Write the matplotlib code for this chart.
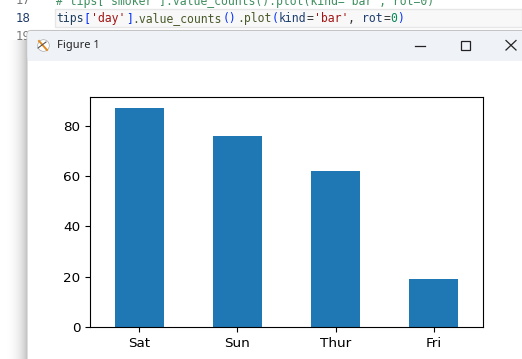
import numpy as np
import matplotlib
matplotlib.use('Agg')
import matplotlib.pyplot as plt
from matplotlib.patches import Rectangle, FancyBboxPatch

days = ['Sat', 'Sun', 'Thur', 'Fri']
counts = [87, 76, 62, 19]
yticks = [0, 20, 40, 60, 80]

# editor lines: (text, colour) pieces
code_17 = [("# tips['smoker'].value_counts().plot(kind='bar', rot=0)", '#3f8f5f')]
code_18 = [("tips", '#1f3f5f'), ("[", '#0431fa'), ("'day'", '#a31515'), ("]", '#0431fa'),
           (".value_counts", '#4a5a2a'), ("()", '#0431fa'), (".plot", '#4a5a2a'), ("(", '#0431fa'),
           ("kind", '#1f3f6f'), ("=", '#333333'), ("'bar'", '#a31515'), (", ", '#333333'),
           ("rot", '#1f3f6f'), ("=", '#333333'), ("0", '#098658'), (")", '#0431fa')]

W, H = 522, 359
fig = plt.figure(figsize=(W/100, H/100), dpi=100)

# screenshot background in pixel coordinates
bg = fig.add_axes([0, 0, 1, 1], zorder=0)
bg.axis('off')

shadow = 1 - 0.22*np.linspace(0, 1, 27)[None, :]**3
bg.imshow(shadow, extent=(0, 27, H, 40), cmap='gray', vmin=0, vmax=1, aspect='auto')
bg.set_xlim(0, W)
bg.set_ylim(H, 0)
bg.add_patch(Rectangle((55, 9), 467, 18, fc='#f8f8f8', ec='#e6e6e6', lw=1))
bg.add_patch(FancyBboxPatch((27, 30.5), W, H, boxstyle='round,pad=0,rounding_size=4', fc='white', ec='#c4c4c4', lw=0.8))
bg.add_patch(FancyBboxPatch((27.5, 31), W, 29.5, boxstyle='round,pad=0,rounding_size=4', fc='#eff2f7', ec='none'))
bg.add_patch(Rectangle((27.5, 40), W, 20.5, fc='#eff2f7', ec='none'))


def code(pieces, x, y):
    for txt, col in pieces:
        bg.text(x, y, txt, color=col, family='DejaVu Sans Mono', fontsize=8.3, va='center', ha='left')
        x += len(txt)*6.96


code(code_17, 56, 1)
code(code_18, 56, 18.5)
bg.text(16, 18.5, '18', color='#1f3a6a', family='DejaVu Sans', fontsize=8.5, va='center')
bg.text(16, 1, '17', color='#777777', family='DejaVu Sans', fontsize=8.5, va='center')
bg.text(16, 37, '19', color='#777777', family='DejaVu Sans', fontsize=8.5, va='center', zorder=0.5)

# window title bar
bg.text(57, 45.5, 'Figure 1', color='#222222', family='Noto Sans', fontsize=8, va='center')
bg.scatter([43], [45], s=70, fc='white', ec='#aaaaaa', lw=0.5, zorder=3)
bg.plot([39, 47], [41, 50], color='#e08a20', lw=1.4, zorder=4)
bg.plot([38, 46], [48, 42], color='#555555', lw=0.8, zorder=4)
bg.plot([415, 425], [45.5, 45.5], color='#222222', lw=0.9)
bg.add_patch(Rectangle((460.5, 40.5), 9, 9, fc='none', ec='#222222', lw=0.9))
bg.plot([506, 516], [40.5, 50], color='#222222', lw=0.9)
bg.plot([506, 516], [50, 40.5], color='#222222', lw=0.9)

# the chart
ax = fig.add_axes([90/W, 1-327/H, 393/W, 230/H], zorder=1)
ax.bar(range(len(days)), counts, width=0.5, color='#1f77b4')
ax.set_xlim(-0.5, 3.5)
ax.set_ylim(0, 91.35)
ax.set_xticks(range(len(days)))
ax.set_xticklabels(days)
ax.set_yticks(yticks)
ax.tick_params(labelsize=9.7)
ax.set_xlabel('day', fontsize=9.7, labelpad=7)

fig.savefig('out.png', dpi=100)
